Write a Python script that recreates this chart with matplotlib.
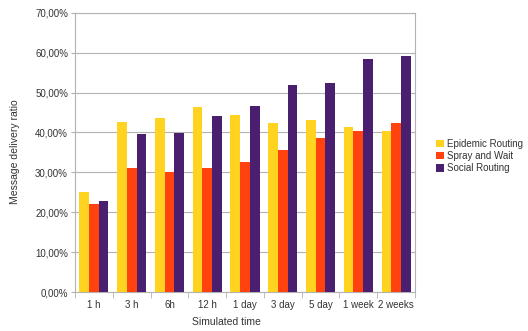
import matplotlib
matplotlib.use("Agg")
import matplotlib.pyplot as plt
import numpy as np
from matplotlib.ticker import FuncFormatter

categories = ["1 h", "3 h", "6h", "12 h", "1 day", "3 day", "5 day", "1 week", "2 weeks"]
epidemic = [25.0, 42.5, 43.5, 46.4, 44.4, 42.4, 43.0, 41.4, 40.4]
spray = [22.1, 31.2, 30.2, 31.2, 32.7, 35.7, 38.7, 40.3, 42.4]
social = [22.8, 39.5, 39.8, 44.2, 46.7, 51.9, 52.4, 58.5, 59.1]
series_names = ["Epidemic Routing", "Spray and Wait", "Social Routing"]
colors = ["#FFD320", "#FF420E", "#4B1F6F"]

plt.rcParams['font.family'] = ['Liberation Sans', 'DejaVu Sans']
W, H = 528, 331
fig = plt.figure(figsize=(W/100, H/100), dpi=100)
ax = fig.add_axes([75/W, 1-292/H, (415-75)/W, (292-12.7)/H])

x = np.arange(len(categories))
bw = 0.257
for i, (vals, name, c) in enumerate(zip([epidemic, spray, social], series_names, colors)):
    ax.bar(x + (i-1)*bw, vals, width=bw, color=c, label=name, zorder=3)

ax.set_xlim(-0.5, len(categories)-0.5)
ax.set_ylim(0, 70)
ax.set_yticks(np.arange(0, 71, 10))
ax.yaxis.set_major_formatter(FuncFormatter(lambda v, p: f"{v:.2f}".replace(".", ",") + "%"))
ax.set_xticks(x)
ax.set_xticklabels(categories)
ax.set_xticks(np.arange(-0.5, len(categories), 1), minor=True)
ax.tick_params(axis='x', which='major', length=0, labelsize=7, colors='#333333', pad=6)
ax.tick_params(axis='x', which='minor', length=4, color='#b3b3b3')
ax.tick_params(axis='y', length=3, color='#b3b3b3', labelsize=7, labelcolor='#333333', pad=2)
ax.grid(axis='y', color='#b3b3b3', linewidth=0.8, zorder=0)
for s in ax.spines.values():
    s.set_color('#b3b3b3')
    s.set_linewidth(0.8)

fig.text(15/W, 1-152/H, "Message delivery ratio", rotation=90, ha='center', va='center', fontsize=7.5, color='#333333')
fig.text(226/W, 1-322/H, "Simulated time", ha='center', va='center', fontsize=7.5, color='#333333')

leg = fig.legend(loc='upper left', bbox_to_anchor=(436/W, 1-139/H), frameon=False, fontsize=7,
                 handlelength=0.8, handleheight=0.8, handletextpad=0.35, labelspacing=0.22, borderaxespad=0, borderpad=0)
for t in leg.get_texts():
    t.set_color('#333333')

fig.savefig("out.png", dpi=100)
